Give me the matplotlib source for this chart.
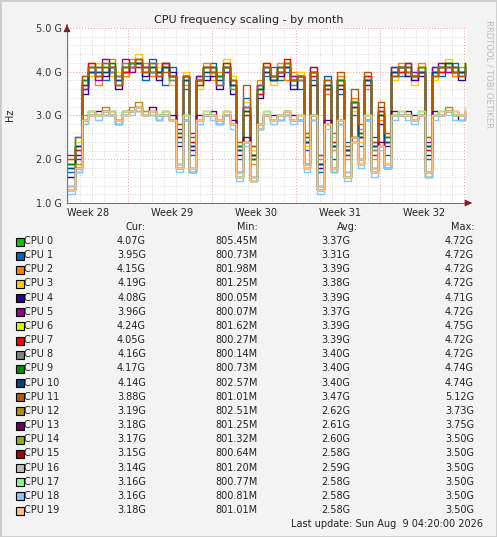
import numpy as np
import matplotlib
matplotlib.use("Agg")
import matplotlib.pyplot as plt

cpus = [f"CPU {i}" for i in range(20)]
colors = ["#00CC00","#0066B3","#FF8000","#FFCC00","#330099","#990099","#CCFF00","#FF0000",
          "#808080","#008F00","#00487D","#B35A00","#B38F00","#6B006B","#8FB300","#B30000",
          "#BEBEBE","#80FF80","#80C9FF","#FFC080"]
cur = ["4.07G","3.95G","4.15G","4.19G","4.08G","3.96G","4.24G","4.05G","4.16G","4.17G",
       "4.14G","3.88G","3.19G","3.18G","3.17G","3.15G","3.14G","3.16G","3.16G","3.18G"]
mins = ["805.45M","800.73M","801.98M","801.25M","800.05M","800.07M","801.62M","800.27M","800.14M","800.73M",
        "802.57M","801.01M","802.51M","801.25M","801.32M","800.64M","801.20M","800.77M","800.81M","801.01M"]
avgs = ["3.37G","3.31G","3.39G","3.38G","3.39G","3.37G","3.39G","3.39G","3.40G","3.40G",
        "3.40G","3.47G","2.62G","2.61G","2.60G","2.58G","2.59G","2.58G","2.58G","2.58G"]
maxs = ["4.72G","4.72G","4.72G","4.72G","4.71G","4.72G","4.75G","4.72G","4.72G","4.74G",
        "4.74G","5.12G","3.73G","3.75G","3.50G","3.50G","3.50G","3.50G","3.50G","3.50G"]
week_labels = ["Week 28","Week 29","Week 30","Week 31","Week 32"]
yticks = [1.0, 2.0, 3.0, 4.0, 5.0]

# values in GHz, evenly spaced over the month
series = [
 [1.9,2.2,3.8,4.1,3.9,4.2,4.0,3.7,4.1,4.2,4.3,4.0,4.1,3.9,4.2,3.8,2.6,3.9,2.3,3.7,4.1,4.0,3.8,4.2,3.6,2.2,3.1,2.0,3.5,4.1,3.8,4.0,4.2,3.7,3.9,2.5,4.0,1.9,3.6,2.4,3.8,2.1,3.3,2.6,3.9,2.2,3.0,2.5,3.9,4.1,4.0,3.8,4.1,2.3,3.9,4.1,4.2,4.0,3.9,4.1],
 [1.7,2.5,3.6,4.0,4.1,3.8,4.2,3.9,4.0,4.1,4.2,3.8,4.3,4.0,3.7,4.1,2.4,3.6,2.1,3.9,3.9,4.2,3.7,4.0,3.8,2.0,3.4,2.3,3.7,3.9,4.1,3.8,4.0,3.9,3.6,2.2,3.8,1.7,3.9,2.0,3.5,2.4,3.0,2.3,3.7,2.5,3.2,2.1,4.1,3.9,4.2,3.9,4.0,2.0,4.1,3.9,4.0,4.2,4.0,3.9],
 [2.0,1.8,3.9,4.2,3.7,4.0,4.3,3.8,3.9,4.3,4.1,4.2,3.9,4.1,4.0,3.9,2.8,3.7,2.5,3.8,4.2,3.8,4.0,4.1,3.7,2.4,3.0,1.9,3.8,4.0,3.9,4.2,3.8,4.0,3.8,2.6,4.1,2.0,3.5,2.2,3.9,2.0,3.4,2.7,3.6,2.0,2.9,2.6,4.0,4.2,3.9,4.0,4.2,2.5,4.0,4.2,4.1,3.9,4.1,4.2],
 [1.8,2.3,3.7,3.9,4.2,4.1,3.9,4.0,4.2,4.0,4.4,4.1,4.0,4.2,4.1,3.7,2.5,4.0,2.4,3.6,4.0,4.1,3.9,4.3,3.9,2.3,3.3,2.2,3.6,4.2,3.7,4.1,4.3,3.8,4.0,2.3,3.9,1.8,3.7,2.5,3.7,2.3,3.1,2.4,3.8,2.3,3.1,2.4,3.8,4.0,4.1,3.7,4.0,2.2,3.8,4.0,4.3,4.1,4.0,4.2],
 [1.6,2.1,3.5,4.0,4.0,3.9,4.1,3.6,4.0,4.1,4.2,3.9,4.2,3.8,4.1,4.0,2.3,3.8,2.2,3.8,3.8,3.9,3.6,4.1,3.5,2.1,3.2,2.1,3.4,4.0,3.9,3.9,4.1,3.6,3.8,2.4,3.7,1.8,3.8,2.3,3.6,2.2,3.2,2.5,3.8,2.4,2.8,2.3,3.9,4.1,3.9,3.8,3.9,2.1,4.0,4.0,4.1,4.0,3.8,4.0],
 [2.1,2.0,3.6,4.1,3.8,4.3,4.0,3.9,4.3,4.0,4.1,4.1,4.0,4.0,4.2,3.9,2.7,3.9,2.6,3.9,4.1,4.1,3.9,4.0,3.7,2.3,3.2,2.1,3.7,4.1,3.8,4.1,4.1,3.9,3.9,2.4,4.1,2.1,3.6,2.3,3.8,2.2,3.3,2.5,3.7,2.3,3.1,2.4,4.1,4.0,4.1,4.0,4.0,2.4,4.1,4.2,4.0,4.1,4.0,4.0],
 [1.8,2.4,3.9,4.0,4.0,4.1,4.2,3.8,4.1,4.2,4.2,4.0,4.1,4.1,4.1,3.8,2.6,3.8,2.3,3.8,4.0,4.0,3.8,4.1,3.7,2.2,3.1,2.1,3.6,4.0,3.8,4.0,4.1,3.8,3.9,2.5,4.0,1.9,3.7,2.3,3.7,2.2,3.2,2.5,3.8,2.3,3.0,2.4,4.0,4.1,4.0,3.9,4.1,2.3,4.0,4.1,4.2,4.1,4.0,4.2],
 [1.9,2.2,3.7,4.2,3.9,4.0,4.1,3.7,4.0,4.1,4.3,4.1,4.0,3.9,4.2,3.9,2.5,3.9,2.4,3.7,4.1,4.1,3.9,4.2,3.8,2.3,3.0,2.0,3.5,4.2,3.9,4.0,4.3,3.8,3.9,2.4,3.9,1.9,3.6,2.4,3.8,2.1,3.3,2.6,3.9,2.1,3.1,2.5,4.0,4.0,4.2,3.9,4.0,2.2,3.9,4.0,4.1,4.1,3.9,4.1],
 [1.8,2.3,3.8,4.0,4.0,4.1,4.0,3.9,4.2,4.1,4.2,4.0,4.0,4.0,4.1,3.8,2.6,3.8,2.3,3.8,4.0,4.0,3.9,4.1,3.6,2.2,3.2,2.1,3.6,4.1,3.9,4.1,4.1,3.8,3.8,2.4,4.0,1.9,3.7,2.3,3.7,2.2,3.2,2.5,3.8,2.2,3.0,2.4,4.0,4.1,4.1,3.9,4.0,2.3,4.0,4.1,4.1,4.0,4.0,4.2],
 [1.9,2.3,3.8,4.1,4.1,4.1,4.2,3.8,4.1,4.2,4.2,4.1,4.1,4.0,4.1,3.9,2.6,3.9,2.3,3.8,4.1,4.1,3.9,4.1,3.7,2.3,3.1,2.0,3.6,4.1,3.8,4.1,4.2,3.8,3.9,2.5,4.0,1.9,3.7,2.3,3.8,2.2,3.3,2.6,3.8,2.3,3.0,2.5,4.0,4.1,4.1,3.9,4.1,2.3,4.0,4.1,4.2,4.1,4.0,4.2],
 [1.8,2.3,3.7,4.0,4.0,4.0,4.1,3.8,4.1,4.2,4.2,4.0,4.1,4.0,4.1,3.9,2.5,3.8,2.3,3.8,4.0,4.0,3.8,4.1,3.7,2.2,3.1,2.1,3.6,4.0,3.8,4.0,4.1,3.8,3.9,2.4,4.0,1.9,3.7,2.3,3.7,2.2,3.2,2.5,3.8,2.3,3.0,2.4,4.0,4.1,4.0,3.9,4.0,2.3,4.0,4.1,4.2,4.0,4.0,4.1],
 [2.0,2.5,3.9,4.1,3.9,4.2,4.1,3.7,4.1,4.2,4.3,4.0,4.2,3.9,4.0,3.9,2.8,3.9,2.5,3.8,4.1,4.0,3.7,4.1,3.8,2.4,3.7,2.3,3.7,4.1,3.9,4.0,4.2,3.8,3.9,2.6,4.0,2.1,3.8,2.6,4.0,2.3,3.6,2.8,4.0,2.4,3.3,2.6,3.9,4.1,4.0,3.9,4.1,2.5,3.9,4.1,4.1,4.0,3.9,4.1],
 [1.4,1.9,3.0,3.1,3.0,3.2,3.1,2.9,3.1,3.2,3.3,3.1,3.1,3.0,3.1,2.9,1.9,3.0,1.8,2.9,3.1,3.0,2.9,3.1,2.8,1.7,2.4,1.5,2.8,3.1,2.9,3.0,3.1,2.9,3.0,1.9,3.0,1.4,2.8,1.8,2.9,1.6,2.5,2.0,3.0,1.7,2.3,1.9,3.0,3.1,3.0,2.9,3.1,1.7,3.0,3.1,3.2,3.0,3.0,3.1],
 [1.3,1.8,2.9,3.0,3.1,3.1,3.0,2.8,3.0,3.1,3.2,3.0,3.2,2.9,3.0,3.0,1.8,2.9,1.7,3.0,3.0,3.1,2.8,3.0,2.9,1.6,2.5,1.6,2.7,3.0,3.0,2.9,3.0,3.0,2.9,1.8,2.9,1.3,2.9,1.7,2.8,1.7,2.4,1.9,2.9,1.8,2.4,1.8,3.1,3.0,3.1,3.0,3.0,1.6,3.1,3.0,3.1,3.1,2.9,3.0],
 [1.4,1.7,2.8,3.1,3.0,3.0,3.1,2.9,3.0,3.1,3.1,3.1,3.0,3.0,3.1,2.9,1.9,3.0,1.7,2.9,3.0,3.0,2.9,3.1,2.8,1.6,2.4,1.6,2.8,3.0,2.9,3.0,3.1,2.9,3.0,1.8,3.0,1.4,2.8,1.8,2.9,1.6,2.5,1.9,3.0,1.7,2.3,1.9,3.0,3.0,3.0,2.9,3.0,1.7,3.0,3.0,3.1,3.0,3.0,3.0],
 [1.3,1.8,2.9,3.0,3.0,3.1,3.0,2.9,3.1,3.1,3.2,3.0,3.1,3.0,3.0,2.9,1.8,2.9,1.8,2.9,3.0,3.0,2.9,3.0,2.8,1.7,2.4,1.5,2.8,3.0,2.9,3.0,3.1,2.9,2.9,1.9,3.0,1.3,2.8,1.8,2.9,1.6,2.5,2.0,2.9,1.7,2.3,1.8,3.0,3.0,3.0,2.9,3.0,1.7,3.0,3.0,3.1,3.0,3.0,3.1],
 [1.4,1.8,2.9,3.0,3.0,3.0,3.1,2.9,3.0,3.1,3.1,3.0,3.1,3.0,3.1,2.9,1.9,3.0,1.8,2.9,3.0,3.0,2.9,3.0,2.8,1.7,2.4,1.6,2.8,3.0,2.9,3.0,3.0,2.9,3.0,1.9,3.0,1.4,2.8,1.8,2.9,1.7,2.5,2.0,3.0,1.8,2.3,1.9,3.0,3.0,3.0,2.9,3.0,1.7,3.0,3.0,3.1,3.0,3.0,3.0],
 [1.3,1.7,2.9,3.1,3.0,3.1,3.0,2.8,3.1,3.1,3.2,3.0,3.0,3.0,3.1,2.9,1.8,3.0,1.7,2.9,3.1,3.0,2.9,3.1,2.8,1.6,2.4,1.5,2.7,3.1,2.9,3.0,3.1,2.9,3.0,1.8,3.0,1.3,2.8,1.7,2.9,1.6,2.4,1.9,3.0,1.7,2.3,1.8,3.0,3.1,3.0,2.9,3.1,1.6,3.0,3.1,3.1,3.0,3.0,3.1],
 [1.2,1.7,2.8,3.0,2.9,3.0,3.0,2.8,3.0,3.0,3.1,3.0,3.0,2.9,3.0,2.9,1.7,2.9,1.7,2.8,3.0,2.9,2.8,3.0,2.7,1.5,2.3,1.5,2.7,3.0,2.8,2.9,3.0,2.8,2.9,1.7,2.9,1.2,2.7,1.7,2.8,1.5,2.4,1.8,2.9,1.6,2.2,1.8,2.9,3.0,2.9,2.8,3.0,1.6,2.9,3.0,3.0,2.9,2.9,3.0],
 [1.3,1.8,2.9,3.0,3.0,3.1,3.0,2.9,3.0,3.1,3.2,3.0,3.1,3.0,3.0,2.9,1.8,3.0,1.8,2.9,3.0,3.0,2.9,3.1,2.8,1.6,2.4,1.5,2.8,3.0,2.9,3.0,3.1,2.9,3.0,1.8,3.0,1.3,2.8,1.8,2.9,1.6,2.4,1.9,3.0,1.7,2.3,1.9,3.0,3.0,3.0,2.9,3.0,1.7,3.0,3.0,3.1,3.1,3.0,3.2],
]

BG = "#F3F3F3"
fig = plt.figure(figsize=(4.97, 5.37), dpi=100, facecolor=BG)
W, H = 497, 537
ax = fig.add_axes([67/W, (H-203)/H, 400/W, 175/H])
ax.set_facecolor("white")

span = 400/84*7  # days shown
for i, s in enumerate(series):
    x = np.linspace(0.1, span - 0.15, len(s))
    ax.step(x, s, where="post", color=colors[i], lw=1.0, zorder=3)

ax.set_xlim(0, span)
ax.set_ylim(1.0, 5.0)
first_week = 61/84*7
ax.set_xticks([first_week + 7*k for k in range(5)], minor=False)
ax.set_xticks([first_week - 7 + d for d in range(0, 42) if 0 < first_week - 7 + d < span], minor=True)
ax.set_yticks(yticks)
ax.set_yticks(np.arange(1.0, 5.0, 0.2), minor=True)
ax.grid(which="minor", color="#CCCCCC", ls=(0, (1, 2)), lw=0.6, zorder=1)
ax.grid(which="major", color="#E0A0A0", ls=(0, (1, 2)), lw=0.7, zorder=1)
ax.set_xticklabels([])
ax.tick_params(which="both", length=0, labelsize=7, colors="#333333")
ax.set_yticklabels([f"{v:.1f} G" for v in yticks])
for k, lab in enumerate(week_labels):
    ax.text(first_week + 7*k - 3.5 + 0.2, -0.055, lab, ha="center", va="center", fontsize=7,
            color="#222222", transform=ax.get_xaxis_transform())
for sp in ["top", "right"]:
    ax.spines[sp].set_visible(False)
ax.spines["left"].set_color("#777777")
ax.spines["bottom"].set_color("#777777")
ax.annotate("", xy=(472/W, (H-203)/H), xytext=(467/W, (H-203)/H), xycoords="figure fraction",
            arrowprops=dict(arrowstyle="-|>", color="#7F1F1F", lw=0.8))
ax.annotate("", xy=(67/W, (H-22)/H), xytext=(67/W, (H-28)/H), xycoords="figure fraction",
            arrowprops=dict(arrowstyle="-|>", color="#7F1F1F", lw=0.8))

fig.text(249/W, 1-20/H, "CPU frequency scaling - by month", ha="center", va="center", fontsize=8, color="#222222")
fig.text(10/W, 1-115/H, "Hz", rotation=90, ha="center", va="center", fontsize=7, color="#222222")
fig.text(489/W, 1-20/H, "RRDTOOL / TOBI OETIKER", rotation=270, ha="center", va="top", fontsize=6, color="#BBBBBB")

def fy(y):
    return 1 - y/H

fig.text(146/W, fy(227), "Cur:", ha="right", va="center", fontsize=7, color="#222222")
fig.text(258/W, fy(227), "Min:", ha="right", va="center", fontsize=7, color="#222222")
fig.text(358/W, fy(227), "Avg:", ha="right", va="center", fontsize=7, color="#222222")
fig.text(474/W, fy(227), "Max:", ha="right", va="center", fontsize=7, color="#222222")
for i in range(20):
    y = 241 + i*14.16
    fig.patches.append(plt.Rectangle((16/W, fy(y+4.5)), 8/W, 8/H, transform=fig.transFigure,
                                     facecolor=colors[i], edgecolor="black", lw=0.8))
    fig.text(24/W, fy(y), cpus[i], ha="left", va="center", fontsize=7, color="#222222")
    fig.text(146/W, fy(y), cur[i], ha="right", va="center", fontsize=7, color="#222222")
    fig.text(258/W, fy(y), mins[i], ha="right", va="center", fontsize=7, color="#222222")
    fig.text(350/W, fy(y), avgs[i], ha="right", va="center", fontsize=7, color="#222222")
    fig.text(474/W, fy(y), maxs[i], ha="right", va="center", fontsize=7, color="#222222")
fig.text(483/W, fy(524), "Last update: Sun Aug  9 04:20:00 2026", ha="right", va="center", fontsize=7, color="#222222")
fig.patches.append(plt.Rectangle((0, 0), 1, 1, transform=fig.transFigure, fill=False, edgecolor="#CCCCCC", lw=2))

fig.savefig("out.png", dpi=100, facecolor=BG)
